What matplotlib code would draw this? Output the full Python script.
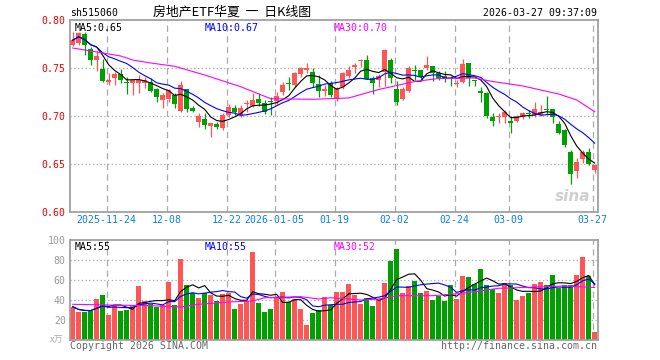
import numpy as np
import pandas as pd
import matplotlib
matplotlib.use("Agg")
import matplotlib.pyplot as plt

# header texts
code_label = "sh515060"
title = "房地产ETF华夏  一  日K线图"
stamp = "2026-03-27 09:37:09"

# daily candles, 2025-11-14 .. 2026-03-27
opens = [0.774, 0.776, 0.785, 0.770, 0.758, 0.749, 0.735, 0.740, 0.744, 0.735,
         0.734, 0.734, 0.734, 0.735, 0.728, 0.717, 0.718, 0.722, 0.705, 0.728,
         0.708, 0.694, 0.697, 0.690, 0.692, 0.687, 0.701, 0.708, 0.701, 0.7125,
         0.710, 0.718, 0.714, 0.716, 0.716, 0.725, 0.734, 0.732, 0.744, 0.748,
         0.746, 0.733, 0.726, 0.734, 0.718, 0.730, 0.742, 0.751, 0.757, 0.758,
         0.740, 0.7375, 0.746, 0.758, 0.728, 0.718, 0.726, 0.748, 0.748, 0.7505,
         0.752, 0.745, 0.742, 0.7396, 0.733, 0.735, 0.755, 0.7372, 0.726, 0.724,
         0.699, 0.6986, 0.699, 0.695, 0.695, 0.6986, 0.7028, 0.701, 0.701, 0.7069,
         0.707, 0.692, 0.685, 0.663, 0.643, 0.655, 0.663, 0.644]
highs = [0.787, 0.788, 0.787, 0.772, 0.768, 0.759, 0.745, 0.746, 0.749, 0.741,
         0.738, 0.743, 0.741, 0.740, 0.729, 0.724, 0.728, 0.724, 0.7365, 0.7285,
         0.710, 0.703, 0.703, 0.693, 0.694, 0.703, 0.7125, 0.7115, 0.7115, 0.7167,
         0.724, 0.724, 0.7167, 0.7195, 0.725, 0.735, 0.741, 0.746, 0.751, 0.755,
         0.750, 0.743, 0.732, 0.736, 0.730, 0.746, 0.752, 0.755, 0.759, 0.7635,
         0.742, 0.744, 0.7695, 0.760, 0.736, 0.730, 0.752, 0.753, 0.748, 0.7625,
         0.7526, 0.747, 0.747, 0.742, 0.7375, 0.759, 0.7555, 0.7375, 0.730, 0.725,
         0.703, 0.703, 0.706, 0.700, 0.701, 0.7045, 0.706, 0.715, 0.7115, 0.721,
         0.707, 0.695, 0.686, 0.665, 0.656, 0.665, 0.667, 0.649]
lows = [0.773, 0.774, 0.764, 0.753, 0.747, 0.735, 0.732, 0.732, 0.734, 0.723,
        0.722, 0.724, 0.729, 0.725, 0.715, 0.708, 0.715, 0.708, 0.704, 0.7045,
        0.704, 0.6885, 0.686, 0.678, 0.6865, 0.685, 0.699, 0.701, 0.699, 0.704,
        0.7097, 0.7104, 0.702, 0.701, 0.713, 0.722, 0.727, 0.7306, 0.741, 0.7444,
        0.7306, 0.7195, 0.721, 0.720, 0.716, 0.728, 0.740, 0.7444, 0.7514, 0.7385,
        0.723, 0.7306, 0.731, 0.734, 0.7115, 0.7167, 0.725, 0.7375, 0.7365, 0.748,
        0.7365, 0.7375, 0.7354, 0.7313, 0.7307, 0.734, 0.7313, 0.7313, 0.715, 0.698,
        0.690, 0.6924, 0.6924, 0.682, 0.694, 0.6965, 0.6976, 0.6993, 0.700, 0.701,
        0.693, 0.6813, 0.6674, 0.629, 0.6354, 0.6507, 0.649, 0.641]
closes = [0.779, 0.786, 0.774, 0.758, 0.762, 0.736, 0.737, 0.744, 0.737, 0.734,
          0.737, 0.738, 0.737, 0.726, 0.720, 0.722, 0.727, 0.712, 0.732, 0.707,
          0.705, 0.700, 0.6906, 0.6924, 0.6882, 0.701, 0.7097, 0.7042, 0.7088, 0.7135,
          0.7167, 0.7132, 0.7045, 0.7146, 0.7208, 0.7323, 0.733, 0.7444, 0.7497, 0.7497,
          0.734, 0.7264, 0.7278, 0.7219, 0.7292, 0.7451, 0.7479, 0.7531, 0.7583, 0.7385,
          0.7347, 0.7417, 0.7688, 0.7392, 0.7149, 0.7285, 0.7505, 0.7469, 0.7406, 0.7531,
          0.7443, 0.7401, 0.7382, 0.7385, 0.7347, 0.7542, 0.7396, 0.7361, 0.7236, 0.6995,
          0.6951, 0.6993, 0.7045, 0.693, 0.7003, 0.7028, 0.7017, 0.7069, 0.7045, 0.7063,
          0.6993, 0.682, 0.6698, 0.6401, 0.6526, 0.6628, 0.6505, 0.649]
volumes = [33.3, 27.7, 27.7, 29, 41, 45, 25, 35, 29, 30,
           35, 54, 39, 35.7, 33.3, 35, 58, 35, 81.3, 55,
           46.7, 42.3, 46.7, 45, 39, 45.7, 46.7, 31, 36, 39,
           88.3, 37.3, 28.3, 31, 43.3, 48, 38.3, 41, 31, 15,
           27.3, 30, 43.3, 35, 48.3, 48.3, 56, 45, 36.3, 42.3,
           34.3, 40, 57.3, 79.3, 91, 47.3, 54, 59.3, 47.3, 49,
           40, 44.3, 39, 55, 41, 64.3, 63.3, 56, 71, 55,
           51, 46.7, 57.3, 55, 40, 44, 47.3, 56, 58, 55,
           65, 52.3, 55, 55, 65.5, 83.5, 64, 8]

# 30-day averages as drawn (history before the window is not visible)
ma30_idx = [0, 4, 8, 10, 13, 17, 22, 28, 33, 40, 46, 51, 57, 61, 67, 70, 75, 81, 84, 87]
ma30_val = [0.7708, 0.7667, 0.7625, 0.7583, 0.7552, 0.7518, 0.7427, 0.7305, 0.718, 0.7174,
            0.7188, 0.7276, 0.7359, 0.7391, 0.7396, 0.7359, 0.7313, 0.7229, 0.7167, 0.7045]
vma30_idx = [0, 6, 13, 18, 21, 26, 30, 32, 38, 41, 43, 48, 51, 54, 60, 65, 71, 76, 82, 87]
vma30_val = [35.7, 35, 34.3, 33, 35.7, 38, 39, 42.3, 43.3, 41, 42.3, 40, 41, 44.3, 44.3,
             46.7, 51.7, 52.7, 54, 52.5]

price_legend = ["MA5:0.65", "MA10:0.67", "MA30:0.70"]
vol_legend = ["MA5:55", "MA10:55", "MA30:52"]

tick_idx = [6, 16, 26, 34, 44, 54, 64, 73, 87]
tick_labels = ["2025-11-24", "12-08", "12-22", "2026-01-05", "01-19",
               "02-02", "02-24", "03-09", "03-27"]

RED = "#ff5555"
GREEN = "#00a000"
MA_COLORS = ["black", "#0000ff", "#ff00ff"]
MONO = "DejaVu Sans Mono"
FS = 7.1

o = np.array(opens)
h = np.array(highs)
l = np.array(lows)
c = np.array(closes)
v = np.array(volumes)
x = np.arange(len(c))
up = c >= o
cols = np.where(up, RED, GREEN)

ma5 = pd.Series(c).rolling(5, min_periods=1).mean()
ma10 = pd.Series(c).rolling(10, min_periods=1).mean()
vma5 = pd.Series(v).rolling(5, min_periods=1).mean()
vma10 = pd.Series(v).rolling(10, min_periods=1).mean()

fig = plt.figure(figsize=(6.6, 3.6), dpi=100)
ax = fig.add_axes([70 / 660, 1 - 212 / 360, 528 / 660, 192 / 360])
axv = fig.add_axes([70 / 660, 1 - 340 / 360, 528 / 660, 100 / 360])

xlim = (-0.45, 87.55)
grid_x = np.array(tick_idx) - 0.35

for a in (ax, axv):
    a.set_xlim(*xlim)
    for s in a.spines.values():
        s.set_color("#a0a0a0")
        s.set_linewidth(1.3)
    for gx in grid_x:
        a.axvline(gx, color="#aaaaaa", lw=0.9, ls=(0, (5, 3.5)), zorder=0)

# price panel
ax.vlines(x, l, h, colors=cols, lw=0.9, zorder=2)
body = np.maximum(np.abs(c - o), 0.0009)
ax.bar(x, body, bottom=np.minimum(o, c), width=0.82, color=cols, zorder=3)
ax.plot(x, ma5, color=MA_COLORS[0], lw=0.8, zorder=4)
ax.plot(x, ma10, color=MA_COLORS[1], lw=0.8, zorder=4)
ax.plot(ma30_idx, ma30_val, color=MA_COLORS[2], lw=0.8, zorder=4)
ax.set_ylim(0.60, 0.80)
ax.set_yticks([0.60, 0.65, 0.70, 0.75, 0.80])
ax.set_yticklabels(["0.60", "0.65", "0.70", "0.75", "0.80"], family=MONO,
                   fontsize=FS, color="#ee0000")
for gy in [0.65, 0.70, 0.75]:
    ax.axhline(gy, color="#aaaaaa", lw=0.9, ls=(0, (1, 2)), zorder=0)
ax.set_xticks(grid_x)
ax.set_xticklabels(tick_labels, family=MONO, fontsize=FS, color="#0a80d8")
ax.tick_params(length=0, pad=3)
ax.tick_params(axis="x", pad=2)

for txt, xx, col in zip(price_legend, [0.008, 0.255, 0.5], MA_COLORS):
    ax.text(xx, 0.985, txt, transform=ax.transAxes, family=MONO, fontsize=FS,
            color=col, va="top", ha="left")
ax.text(0.985, 0.04, "sina", transform=ax.transAxes, fontsize=11, fontweight="bold",
        style="italic", color="#d0d0d0", ha="right", va="bottom", zorder=1)

# volume panel
axv.bar(x, v, width=0.83, color=cols, zorder=2)
axv.plot(x, vma5, color=MA_COLORS[0], lw=0.8, zorder=4)
axv.plot(x, vma10, color=MA_COLORS[1], lw=0.8, zorder=4)
axv.plot(vma30_idx, vma30_val, color=MA_COLORS[2], lw=0.8, zorder=4)
axv.set_ylim(0, 100)
axv.set_yticks([20, 40, 60, 80, 100])
axv.set_yticklabels(["20", "40", "60", "80", "100"], family=MONO, fontsize=FS,
                    color="#999999")
for gy in [20, 40, 60, 80]:
    axv.axhline(gy, color="#aaaaaa", lw=0.9, ls=(0, (1, 2)), zorder=0)
axv.set_xticks([])
axv.tick_params(length=0, pad=3)
axv.text(-0.012, 0.0, "x万", transform=axv.transAxes, ha="right", va="center",
         fontsize=6.5, color="#aaaaaa", family=["Noto Sans CJK SC", "DejaVu Sans"])
for txt, xx, col in zip(vol_legend, [0.008, 0.255, 0.5], MA_COLORS):
    axv.text(xx, 0.975, txt, transform=axv.transAxes, family=MONO, fontsize=FS,
             color=col, va="top", ha="left")

# header and footer
fig.text(70 / 660, 1 - 13 / 360, code_label, family=MONO, fontsize=FS,
         ha="left", va="center")
fig.text(232 / 660, 1 - 12 / 360, title, family=["Noto Sans CJK SC", "DejaVu Sans"],
         fontsize=9.3, ha="center", va="center")
fig.text(597 / 660, 1 - 13 / 360, stamp, family=MONO, fontsize=FS,
         ha="right", va="center")
fig.text(70 / 660, 1 - 346 / 360, "Copyright 2026 SINA.COM", family=MONO,
         fontsize=FS, color="#666666", ha="left", va="center")
fig.text(597 / 660, 1 - 346 / 360, "http://finance.sina.com.cn", family=MONO,
         fontsize=FS, color="#666666", ha="right", va="center")

fig.savefig("out.png", dpi=100, facecolor="white")
